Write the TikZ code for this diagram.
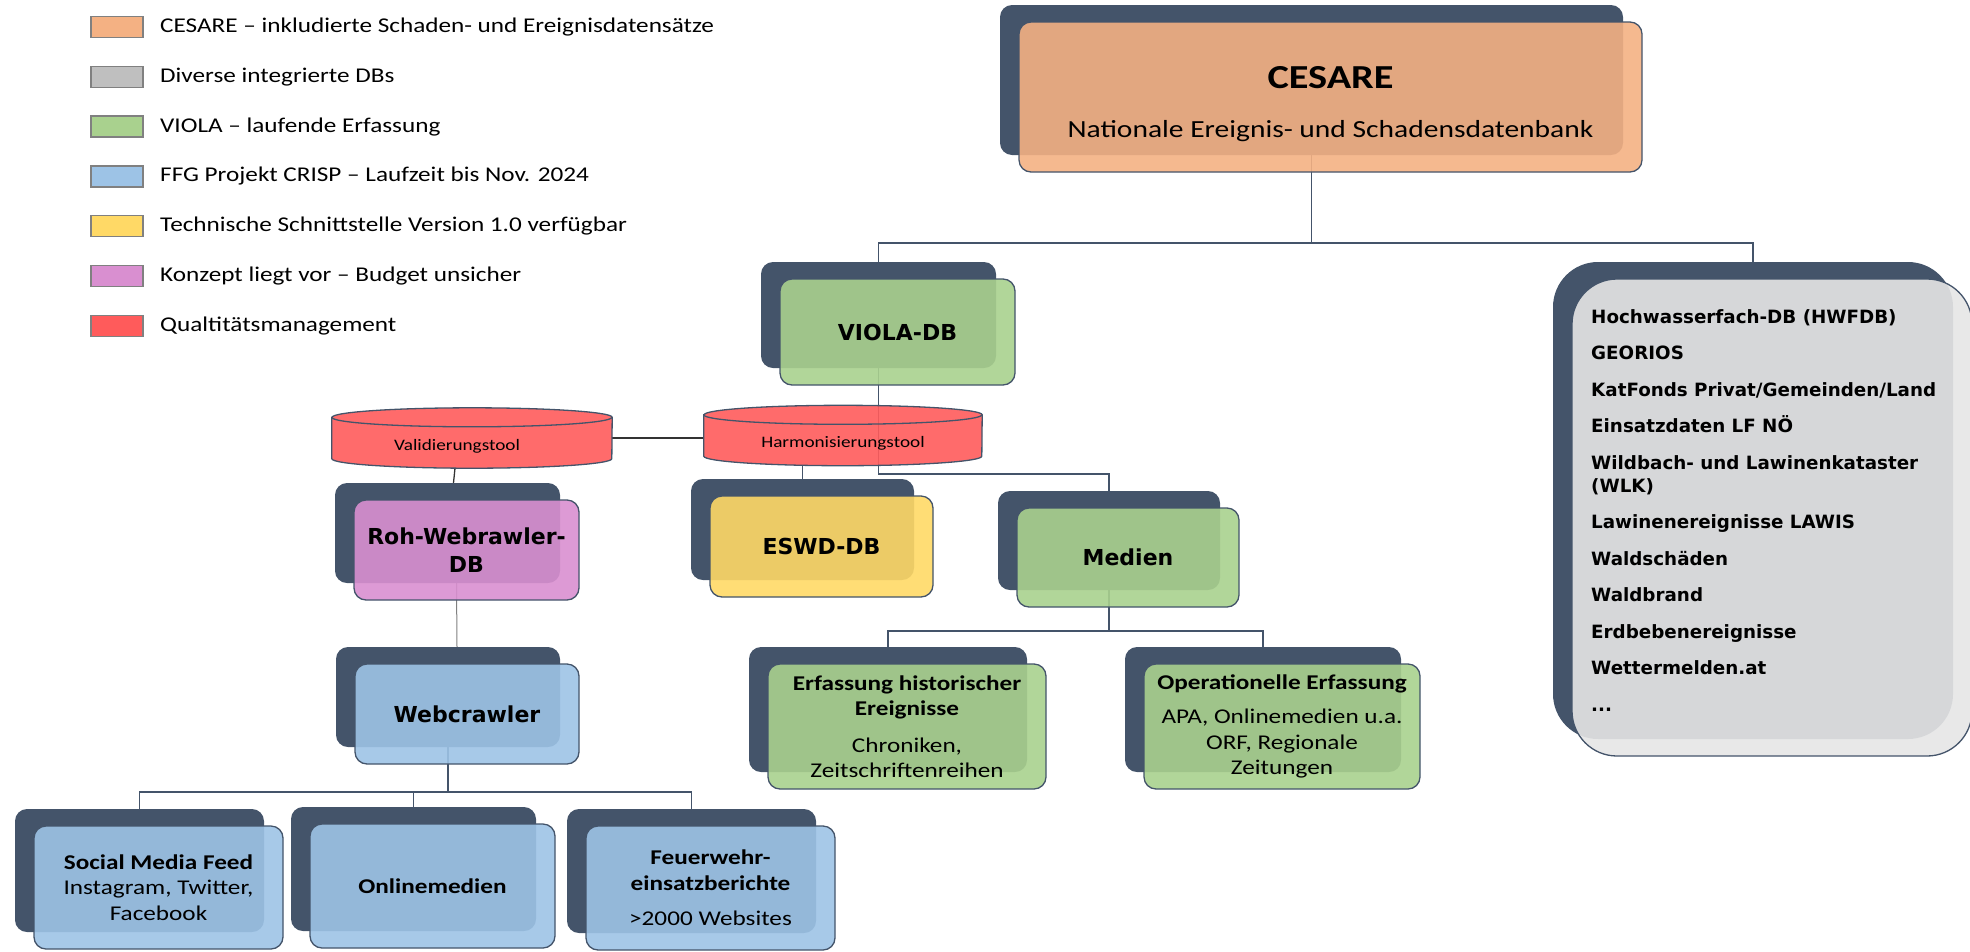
\documentclass[tikz,border=0pt]{standalone}
\usepackage{fontspec}
\setmainfont{Carlito}[FakeStretch=1.2]
\newfontfamily\wideface{DejaVu Sans}
\usetikzlibrary{calc,positioning}
\pgfdeclarelayer{lines}
\pgfdeclarelayer{mid}
\pgfsetlayers{lines,mid,main}

\definecolor{slate}{HTML}{44546A}
\definecolor{cesareorange}{HTML}{F4B183}
\definecolor{dbgrey}{HTML}{BFBFBF}
\definecolor{violagreen}{HTML}{A9D18E}
\definecolor{crispblue}{HTML}{9DC3E6}
\definecolor{apiyellow}{HTML}{FFD966}
\definecolor{conceptpink}{HTML}{D98FD0}
\definecolor{qmred}{HTML}{FF5B5B}
\definecolor{listgrey}{HTML}{E6E6E6}

\tikzset{%
	shadowbox/.style  = {rectangle, rounded corners=12, fill=slate, inner sep=0},
	frontbox/.style   = {rectangle, rounded corners=12, draw=slate, line width=1.3, fill opacity=0.9, text opacity=1, align=center, inner sep=0},
	conn/.style       = {draw=slate, line width=1.6},
	tool/.style       = {draw=slate, line width=1.3, fill=qmred, fill opacity=0.9},
	tooltext/.style   = {inner sep=0, font=\fontsize{16}{18}\selectfont},
	swatch/.style     = {draw=gray, line width=1.5, minimum width=52, minimum height=21, inner sep=0},
	legendtext/.style = {anchor=west, inner sep=0, font=\fontsize{21}{25}\selectfont},
	leveltwo/.style   = {font=\fontsize{22}{28}\wideface\bfseries},
	leaf/.style       = {font=\fontsize{21}{25.5}\selectfont},
}

% shadow box (named #1) with the coloured box on top (named #1 front)
\newcommand{\orgbox}[8]{%
	\node[shadowbox, minimum width=#4, minimum height=#5, #7] (#1) at ({#2+#4/2},{-#3-#5/2}) {};
	\node[frontbox, fill=#6, minimum width=#4, minimum height=#5, #7] (#1 front) at ([shift={(19,-17)}]#1.center) {#8};
}
% red database cylinder
\newcommand{\tooldb}[5]{%
	\node[tooltext, minimum width=#4, minimum height=60] (#1) at (#2,-#3) {\raisebox{-8pt}[\height][\depth]{#5}};
	\begin{pgfonlayer}{mid}
		\draw[tool] ([yshift=-9.5]#1.north west) -- ([yshift=9.5]#1.south west)
			arc[start angle=180, end angle=360, x radius=#4/2, y radius=9.5]
			-- ([yshift=-9.5]#1.north east)
			arc[start angle=0, end angle=180, x radius=#4/2, y radius=9.5] -- cycle;
		\draw[tool, fill=none] ([yshift=-9.5]#1.north west)
			arc[start angle=180, end angle=360, x radius=#4/2, y radius=9.5];
	\end{pgfonlayer}
}

\begin{document}
\begin{tikzpicture}[x=1pt, y=1pt]
	\useasboundingbox (0,0) rectangle (1970,-951);

	% legend
	\foreach \col/\txt [count=\i] in {cesareorange/CESARE – inkludierte Schaden- und Ereignisdatensätze,
			dbgrey/Diverse integrierte DBs, violagreen/VIOLA – laufende Erfassung,
			crispblue/FFG Projekt CRISP – Laufzeit bis Nov. 2024,
			apiyellow/Technische Schnittstelle Version 1.0 verfügbar,
			conceptpink/Konzept liegt vor – Budget unsicher, qmred/Qualtitätsmanagement}{
		\node[swatch, fill=\col] (swatch\i) at (117,{-27-49.8*(\i-1)}) {};
		\node[legendtext] (legend\i) at (160,{-27-49.8*(\i-1)}) {\txt};
	}

	% boxes
	\orgbox{cesare}{1000}{5}{623}{150}{cesareorange}{font=\fontsize{24.6}{30}\selectfont}{\rule{0pt}{36pt}{\fontsize{33.6}{30}\selectfont\bfseries CESARE}\\[19pt]Nationale Ereignis- und Schadensdatenbank}
	\orgbox{viola}{761}{262}{235}{106}{violagreen}{leveltwo}{VIOLA-DB}
	\orgbox{roh}{335}{483}{225}{100}{conceptpink}{leveltwo}{Roh-Webrawler-\\DB}
	\orgbox{web}{336}{647}{224}{100}{crispblue}{leveltwo}{Webcrawler}
	\orgbox{eswd}{691}{479}{223}{101}{apiyellow}{leveltwo}{ESWD-DB}
	\orgbox{medien}{998}{491}{222}{99}{violagreen}{leveltwo}{Medien}
	\orgbox{erf}{749}{647}{278}{125}{violagreen}{leaf}{\textbf{Erfassung historischer}\\\textbf{Ereignisse}\\[11pt]Chroniken,\\Zeitschriftenreihen}
	\orgbox{ops}{1125}{647}{276}{125}{violagreen}{leaf}{\textbf{Operationelle Erfassung}\\[8.5pt]APA, Onlinemedien u.a.\\ORF, Regionale\\Zeitungen}
	\orgbox{social}{15}{809}{249}{123}{crispblue}{leaf}{\textbf{Social Media Feed}\\Instagram, Twitter,\\Facebook}
	\orgbox{online}{291}{807}{245}{124}{crispblue}{leaf}{\textbf{Onlinemedien}}
	\orgbox{feuer}{567}{809}{249}{124}{crispblue}{leaf}{\textbf{Feuerwehr-}\\\textbf{einsatzberichte}\\[10pt]>2000 Websites}
	\orgbox{dbs}{1553}{262}{400}{477}{listgrey}{rounded corners=45}{}
	\node[anchor=north west, align=left, inner sep=0, font=\fontsize{18.3}{23}\wideface\bfseries] (dbs list) at (1591,-309)
		{Hochwasserfach-DB (HWFDB)\\[13.5pt]GEORIOS\\[13.5pt]KatFonds Privat/Gemeinden/Land\\[13.5pt]Einsatzdaten LF NÖ\\[13.5pt]Wildbach- und Lawinenkataster\\(WLK)\\[13.5pt]Lawinenereignisse LAWIS\\[13.5pt]Waldschäden\\[13.5pt]Waldbrand\\[13.5pt]Erdbebenereignisse\\[13.5pt]Wettermelden.at\\[13.5pt]...};

	% quality tools
	\tooldb{valid}{472}{438}{280}{\hspace*{-30pt}Validierungstool}
	\tooldb{harm}{843}{435.5}{278}{Harmonisierungstool}

	% connectors
	\begin{pgfonlayer}{lines}
		\draw[conn] (cesare.south) -- ++(0,-88) coordinate (cesare split) -| (viola.north);
		\draw[conn] (cesare split) -| (dbs.north);
		\draw[conn] (viola.south) -- ++(0,-106) -| (medien.north);
		\draw[conn] (eswd.north |- harm.south) -- (eswd.north);
		\draw[conn, line width=1.3, draw=black!80] (valid.east) -- (valid.east -| harm.west);
		\draw[conn, line width=1.3, draw=black!80] ([xshift=-17]valid.south) -- ([xshift=6]roh.north);
		\draw[draw=gray, line width=1] ([xshift=9]roh.south) -- ([xshift=9]web.north);
		\draw[conn] (web.south) -- ++(0,-45) coordinate (web split) -| (social.north);
		\draw[conn] (web split) -| (online.north);
		\draw[conn] (web split) -| (feuer.north);
		\draw[conn] (medien.south) -- ++(0,-41) coordinate (medien split) -| (erf.north);
		\draw[conn] (medien split) -| (ops.north);
	\end{pgfonlayer}
\end{tikzpicture}
\end{document}
